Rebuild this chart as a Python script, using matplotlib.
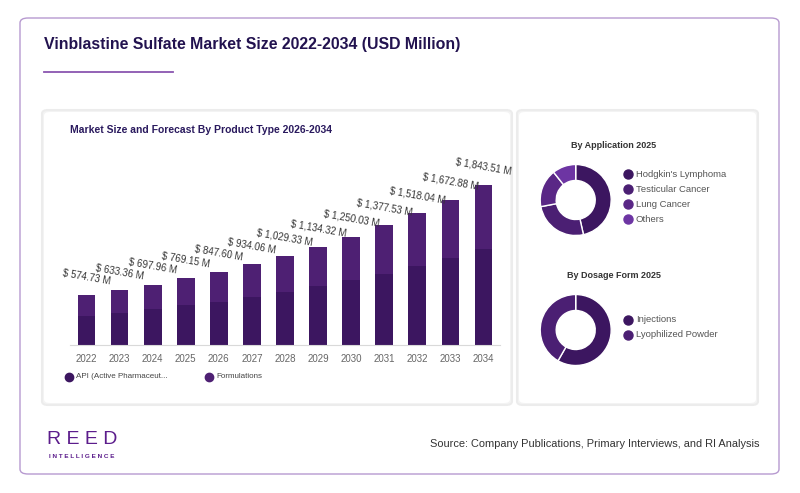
import matplotlib.pyplot as plt
from matplotlib.patches import FancyBboxPatch
import numpy as np

# data
years = ['2022', '2023', '2024', '2025', '2026', '2027', '2028',
         '2029', '2030', '2031', '2032', '2033', '2034']
totals = [574.73, 633.36, 697.96, 769.15, 847.60, 934.06, 1029.33,
          1134.32, 1250.03, 1377.53, 1518.04, 1672.88, 1843.51]
api_vals = [337, 375, 418, 460, 502, 556, 617, 678, 747, 824, 912, 1004, 1103]
form_vals = [t - a for t, a in zip(totals, api_vals)]
series_names = ['API (Active Pharmaceut...', 'Formulations']

app_labels = ["Hodgkin's Lymphoma", 'Testicular Cancer', 'Lung Cancer', 'Others']
app_shares = [46.5, 25.5, 17.3, 10.7]
dose_labels = ['Injections', 'Lyophilized Powder']
dose_shares = [58.3, 41.7]

c_api = '#3c1660'
c_form = '#4e2073'
app_colors = ['#3c1660', '#4b1f73', '#5a2786', '#6d35a3']
dose_colors = ['#3c1660', '#4b1f73']

W, H = 800, 493
fig = plt.figure(figsize=(8, 4.93), dpi=100)
fig.patch.set_facecolor('white')


def fx(px):
    return px / W


def fy(py):
    return 1 - py / H


def box(x0, y0, x1, y1, ec, fc, lw=1.0, r=8, z=0):
    p = FancyBboxPatch((fx(x0), fy(y1)), fx(x1) - fx(x0), fy(y0) - fy(y1),
                       boxstyle=f'round,pad=0,rounding_size={r / W}',
                       transform=fig.transFigure, ec=ec, fc=fc, lw=lw, zorder=z)
    fig.patches.append(p)


# outer frame and panels
box(20, 18, 779, 474, '#b79ad0', 'white', lw=1.0, r=8, z=-5)
box(42, 110, 512, 405, '#ececec', '#f4f4f4', lw=1.5, r=6, z=-4)
box(517, 110, 758, 405, '#ececec', '#f4f4f4', lw=1.5, r=6, z=-4)
box(44, 112, 510, 403, 'none', 'white', lw=0, r=6, z=-3)
box(519, 112, 756, 403, 'none', 'white', lw=0, r=6, z=-3)

narrow = ['Liberation Sans Narrow', 'Liberation Sans', 'DejaVu Sans']
sans = ['Liberation Sans', 'DejaVu Sans']

fig.text(fx(44), fy(45), 'Vinblastine Sulfate Market Size 2022-2034 (USD Million)',
         family=narrow, fontsize=11.4, weight='bold', color='#22124f', va='center')
fig.add_artist(plt.Line2D([fx(44), fx(173)], [fy(72), fy(72)], color='#8a55b0', lw=1.3))

# bar chart
scale = 0.087  # px per million
ax_h = 195
ax = fig.add_axes([fx(70), fy(345.3), fx(500) - fx(70), ax_h / H])
ax.set_zorder(2)
x = np.arange(len(years))
ax.bar(x, api_vals, width=0.535, color=c_api, label=series_names[0])
ax.bar(x, form_vals, width=0.535, bottom=api_vals, color=c_form, label=series_names[1])
ax.set_xlim(-0.5, len(years) - 0.5)
ax.set_ylim(0, ax_h / scale)
for i, t in enumerate(totals):
    ax.annotate(f'$ {t:,.2f} M', (i, t), xytext=(0, 13), textcoords='offset points',
                ha='center', va='center', rotation=-10, fontsize=7, color='#333333',
                family=sans, annotation_clip=False)
for s in ['top', 'right', 'left']:
    ax.spines[s].set_visible(False)
ax.spines['bottom'].set_color('#d9d9d9')
ax.set_yticks([])
ax.set_xticks(x)
ax.set_xticklabels(years, fontsize=7, color='#666666', family=sans)
ax.tick_params(axis='x', length=0, pad=6)
ax.patch.set_alpha(0)

fig.text(fx(70), fy(130), 'Market Size and Forecast By Product Type 2026-2034',
         family=sans, fontsize=7.5, weight='bold', color='#2a1a5e', va='center')

for mx, tx, name, col in [(69, 76, series_names[0], c_api), (209, 216, series_names[1], c_form)]:
    fig.add_artist(plt.Line2D([fx(mx)], [fy(376.7)], marker='o', ms=6, color=col, ls='none'))
    fig.text(fx(tx), fy(376.7), name, fontsize=5.8, color='#444444', family=sans, va='center')

# donuts
def donut(cx, cy, shares, colors):
    r = 35.5
    a = fig.add_axes([fx(cx - r), fy(cy + r), 2 * r / W, 2 * r / H])
    a.set_zorder(2)
    a.pie(shares, colors=colors, startangle=90, counterclock=False,
          wedgeprops=dict(width=0.45, edgecolor='white', linewidth=1))
    a.set_xlim(-1.0, 1.0)
    a.set_ylim(-1.0, 1.0)
    a.set_aspect('equal')
    a.axis('off')


donut(575.7, 200, app_shares, app_colors)
donut(575.7, 330, dose_shares, dose_colors)

fig.text(fx(614), fy(145.7), 'By Application 2025', ha='center', va='center',
         fontsize=6.5, weight='bold', color='#333333', family=sans)
fig.text(fx(614), fy(275.7), 'By Dosage Form 2025', ha='center', va='center',
         fontsize=6.5, weight='bold', color='#333333', family=sans)

for i, (lab, col) in enumerate(zip(app_labels, app_colors)):
    y = 174.3 + i * 15
    fig.add_artist(plt.Line2D([fx(627.5)], [fy(y)], marker='o', ms=6.5, color=col, ls='none'))
    fig.text(fx(636), fy(y), lab, fontsize=6.8, color='#555555', family=sans, va='center')
for i, (lab, col) in enumerate(zip(dose_labels, dose_colors)):
    y = 319.7 + i * 15
    fig.add_artist(plt.Line2D([fx(627.5)], [fy(y)], marker='o', ms=6.5, color=col, ls='none'))
    fig.text(fx(636), fy(y), lab, fontsize=6.8, color='#555555', family=sans, va='center')

# footer
fig.text(fx(82), fy(440), 'R E E D', ha='center', va='center', fontsize=14,
         color='#5c1d8c', family=sans)
fig.text(fx(82), fy(456), 'I N T E L L I G E N C E', ha='center', va='center',
         fontsize=4.6, color='#5c1d8c', family=sans, weight='bold')
fig.text(fx(759), fy(444), 'Source: Company Publications, Primary Interviews, and RI Analysis',
         ha='right', va='center', fontsize=7.9, color='#333333', family=narrow)

fig.savefig('out.png', dpi=100, facecolor='white')
